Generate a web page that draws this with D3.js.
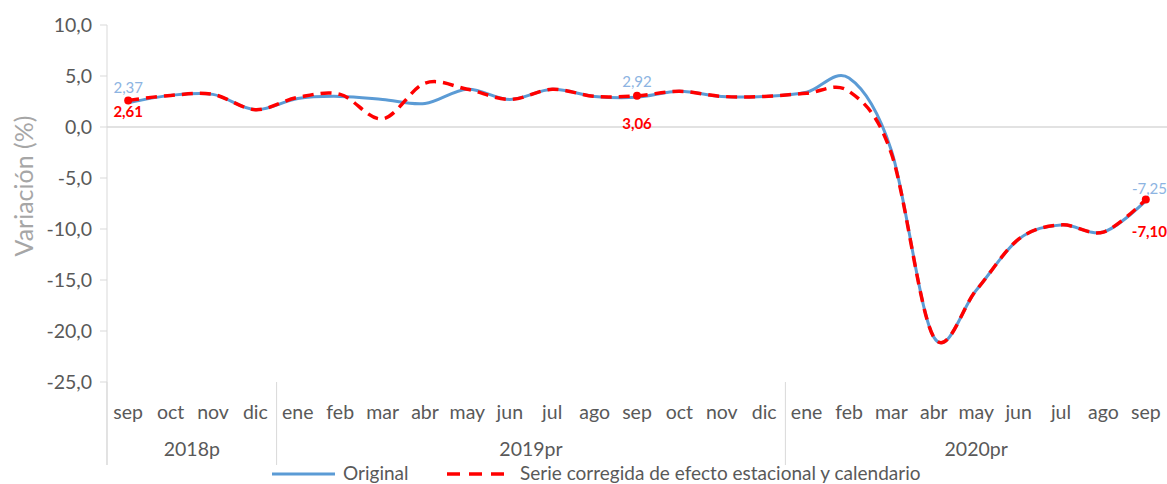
<!DOCTYPE html>
<html lang="es">
  <head>
    <meta charset="UTF-8" />
    <title>Variación (%)</title>
    <script src="https://d3js.org/d3.v7.min.js"></script>
    <style>
      body {
        margin: 0;
        background: #fff;
      }
      svg text {
        font-family: Lato, "Open Sans", sans-serif;
      }
    </style>
  </head>
  <body>
    <svg width="1167" height="484"></svg>
    <script>
      // months, sep 2018 .. sep 2020
      const months = [
        "sep", "oct", "nov", "dic",
        "ene", "feb", "mar", "abr", "may", "jun", "jul", "ago", "sep", "oct", "nov", "dic",
        "ene", "feb", "mar", "abr", "may", "jun", "jul", "ago", "sep",
      ];
      const years = [
        { label: "2018p", from: 0, to: 3 },
        { label: "2019pr", from: 4, to: 15 },
        { label: "2020pr", from: 16, to: 24 },
      ];
      const original = [
        2.37, 3.1, 3.2, 1.7,
        2.8, 3.0, 2.7, 2.3, 3.7, 2.7, 3.7, 3.0, 2.92, 3.5, 3.0, 3.0,
        3.4, 4.8, -2.3, -20.6, -16.0, -11.0, -9.6, -10.3, -7.25,
      ];
      const corregida = [
        2.61, 3.1, 3.2, 1.7,
        2.9, 3.2, 0.8, 4.3, 3.7, 2.7, 3.7, 3.0, 3.06, 3.5, 3.0, 3.0,
        3.3, 3.5, -2.6, -20.6, -16.0, -11.0, -9.6, -10.3, -7.1,
      ];
      const yTicks = [10, 5, 0, -5, -10, -15, -20, -25];
      // points that carry value labels
      const labelled = [0, 12, 24];

      const fmt = (v) => v.toFixed(2).replace(".", ",");
      const fmt1 = (v) => v.toFixed(1).replace(".", ",");

      const svg = d3.select("svg");
      const mLeft = 107, mRight = 1167, mTop = 25, mBottom = 382;
      const grey = "#595959";

      const x = d3
        .scaleBand()
        .domain(d3.range(months.length))
        .range([mLeft, mRight]);
      const y = d3.scaleLinear().domain([-25, 10]).range([mBottom, mTop]);
      const cx = (i) => x(i) + x.bandwidth() / 2;

      // y axis
      const yAxis = svg.append("g");
      yAxis
        .append("line")
        .attr("x1", mLeft)
        .attr("x2", mLeft)
        .attr("y1", mTop)
        .attr("y2", 465)
        .attr("stroke", "#d9d9d9");
      yAxis
        .selectAll(".tick")
        .data(yTicks)
        .enter()
        .append("line")
        .attr("x1", mLeft - 7)
        .attr("x2", mLeft)
        .attr("y1", (d) => y(d))
        .attr("y2", (d) => y(d))
        .attr("stroke", "#d9d9d9");
      yAxis
        .selectAll("text")
        .data(yTicks)
        .enter()
        .append("text")
        .attr("x", 92)
        .attr("y", (d) => y(d) + 7)
        .attr("text-anchor", "end")
        .attr("font-size", 19.5)
        .attr("fill", grey)
        .text(fmt1);

      svg
        .append("text")
        .attr("transform", "translate(33,186) rotate(-90)")
        .attr("text-anchor", "middle")
        .attr("font-size", 25)
        .attr("fill", "#a6a6a6")
        .text("Variación (%)");

      // zero line
      svg
        .append("line")
        .attr("x1", mLeft)
        .attr("x2", mRight)
        .attr("y1", y(0))
        .attr("y2", y(0))
        .attr("stroke", "#d9d9d9")
        .attr("stroke-width", 1.5);

      // category labels
      svg
        .append("g")
        .selectAll("text")
        .data(months)
        .enter()
        .append("text")
        .attr("x", (d, i) => cx(i))
        .attr("y", 419)
        .attr("text-anchor", "middle")
        .attr("font-size", 19.5)
        .attr("fill", grey)
        .text((d) => d);

      // year groups
      const yg = svg.append("g");
      yg.selectAll("line")
        .data(years)
        .enter()
        .append("line")
        .attr("x1", (d) => x(d.from))
        .attr("x2", (d) => x(d.from))
        .attr("y1", mBottom)
        .attr("y2", 465)
        .attr("stroke", "#d9d9d9");
      yg.selectAll("text")
        .data(years)
        .enter()
        .append("text")
        .attr("x", (d) => (x(d.from) + x(d.to) + x.bandwidth()) / 2)
        .attr("y", 456)
        .attr("text-anchor", "middle")
        .attr("font-size", 19.5)
        .attr("fill", grey)
        .text((d) => d.label);

      const line = d3
        .line()
        .x((d, i) => cx(i))
        .y((d) => y(d))
        .curve(d3.curveCatmullRom.alpha(0));

      svg
        .append("path")
        .attr("d", line(original))
        .attr("fill", "none")
        .attr("stroke", "#5b9bd5")
        .attr("stroke-width", 3);

      svg
        .append("path")
        .attr("d", line(corregida))
        .attr("fill", "none")
        .attr("stroke", "#ff0000")
        .attr("stroke-width", 3.5)
        .attr("stroke-dasharray", "11,7");

      svg
        .append("g")
        .selectAll("circle")
        .data(labelled)
        .enter()
        .append("circle")
        .attr("cx", (i) => cx(i))
        .attr("cy", (i) => y(corregida[i]))
        .attr("r", 4)
        .attr("fill", "#ff0000");

      // value labels
      svg
        .append("g")
        .selectAll("text")
        .data(labelled)
        .enter()
        .append("text")
        .attr("x", (i) => (i === 24 ? 1167 : cx(i)))
        .attr("y", (i) => y(original[i]) - (i === 24 ? 7 : 10))
        .attr("text-anchor", (i) => (i === 24 ? "end" : "middle"))
        .attr("font-size", 15)
        .attr("fill", "#8db4e2")
        .text((i) => fmt(original[i]));

      svg
        .append("g")
        .selectAll("text")
        .data(labelled)
        .enter()
        .append("text")
        .attr("x", (i) => (i === 24 ? 1167 : cx(i)))
        .attr("y", (i) => y(corregida[i]) + (i === 24 ? 38 : i === 12 ? 33 : 17))
        .attr("text-anchor", (i) => (i === 24 ? "end" : "middle"))
        .attr("font-size", 15)
        .attr("font-weight", "bold")
        .attr("fill", "#ff0000")
        .text((i) => fmt(corregida[i]));

      // legend
      const lg = svg.append("g").attr("transform", "translate(0,474)");
      lg.append("line")
        .attr("x1", 272)
        .attr("x2", 335)
        .attr("stroke", "#5b9bd5")
        .attr("stroke-width", 3);
      lg.append("text")
        .attr("x", 343)
        .attr("y", 6)
        .attr("font-size", 19)
        .attr("fill", grey)
        .text("Original");
      lg.append("line")
        .attr("x1", 447)
        .attr("x2", 512)
        .attr("stroke", "#ff0000")
        .attr("stroke-width", 3.5)
        .attr("stroke-dasharray", "13,9");
      lg.append("text")
        .attr("x", 520)
        .attr("y", 6)
        .attr("font-size", 19)
        .attr("fill", grey)
        .text("Serie corregida de efecto estacional y calendario");
    </script>
  </body>
</html>
